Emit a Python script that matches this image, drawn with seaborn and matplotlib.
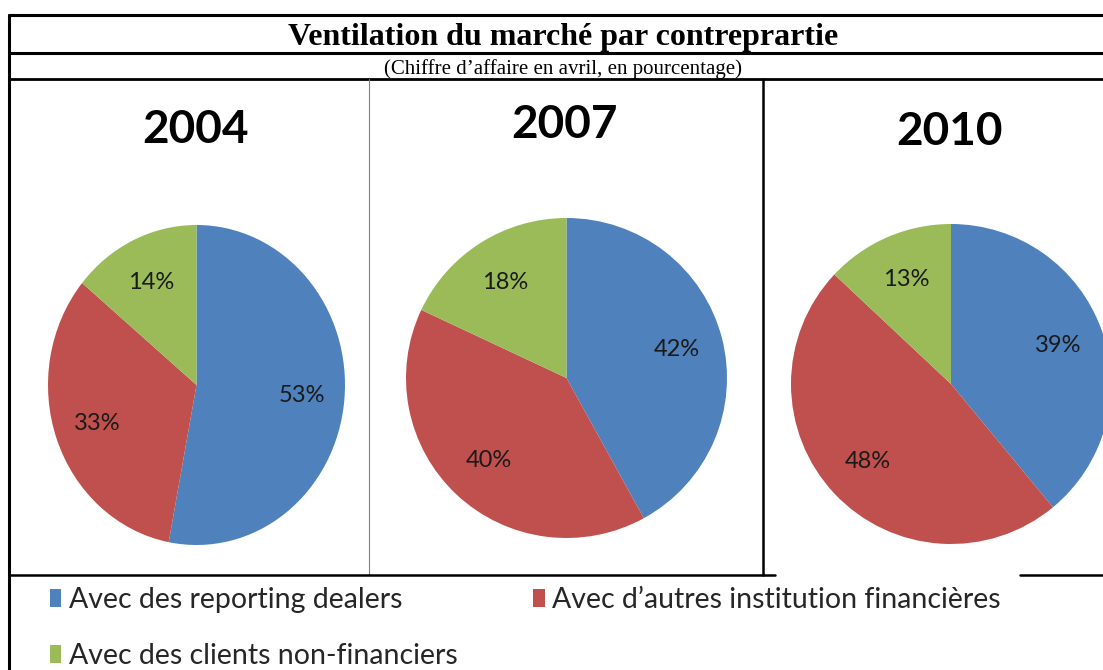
import matplotlib
matplotlib.use("Agg")
import matplotlib.pyplot as plt
import seaborn as sns
from matplotlib.patches import Patch

# --- data ---
years = ["2004", "2007", "2010"]
categories = [
    "Avec des reporting dealers",
    "Avec d\u2019autres institution financi\u00e8res",
    "Avec des clients non-financiers",
]
reporting_dealers = [53, 42, 39]
autres_institutions = [33, 40, 48]
clients_non_financiers = [14, 18, 13]

title = "Ventilation du march\u00e9 par contreprartie"
subtitle = "(Chiffre d\u2019affaire en avril, en pourcentage)"

sns.set_style("white")
plt.rcParams["font.family"] = ["Lato", "DejaVu Sans"]

palette = sns.color_palette(["#4F81BD", "#C0504D", "#9BBB59"])

W, H = 1103, 670
fig = plt.figure(figsize=(W / 100, H / 100), dpi=100)

# background axes in pixel units for the table frame and texts
bg = fig.add_axes([0, 0, 1, 1])
bg.set_xlim(0, W)
bg.set_ylim(H, 0)
bg.axis("off")

# frame lines
bg.plot([9, W], [15, 15], color="black", lw=2.2)
bg.plot([9, W], [53, 53], color="black", lw=2.2)
bg.plot([9, W], [79, 79], color="black", lw=2.0)
bg.plot([9, 9], [15, H], color="black", lw=2.2)
bg.plot([369, 369], [79, 575], color="#808080", lw=0.8)
bg.plot([763, 763], [79, 575], color="black", lw=1.8)
bg.plot([9, 775], [575, 575], color="black", lw=1.8)
bg.plot([1020, W], [575, 575], color="black", lw=1.8)

bg.text(563, 45, title, ha="center", va="baseline", fontsize=23,
        fontweight="bold", color="black",
        family=["Liberation Serif", "DejaVu Serif"])
bg.text(563, 74, subtitle, ha="center", va="baseline", fontsize=15,
        color="black", family=["Liberation Serif", "DejaVu Serif"])

# pie panels: (left, top, width, height) in pixels, and year title position
panels = [
    ((48, 225, 297, 320), (195, 143)),
    ((406, 218, 321, 320), (564, 138)),
    ((791, 224, 320, 320), (950, 145)),
]

for i, (year, (box, tpos)) in enumerate(zip(years, panels)):
    left, top, w, h = box
    ax = fig.add_axes([left / W, 1 - (top + h) / H, w / W, h / H])
    values = [reporting_dealers[i], autres_institutions[i], clients_non_financiers[i]]
    wedges, texts, autotexts = ax.pie(
        values, colors=palette, startangle=90, counterclock=False,
        autopct=lambda p: f"{p:.0f}%", pctdistance=0.71,
        wedgeprops=dict(linewidth=0),
        textprops=dict(fontsize=17, color="#1a1a1a"),
    )
    ax.set_aspect("auto")
    ax.set_xlim(-1, 1)
    ax.set_ylim(-1, 1)
    bg.text(tpos[0], tpos[1], year, ha="center", va="baseline",
            fontsize=33, fontweight="bold", color="black")

# legend
handles = [Patch(facecolor=c, edgecolor="none") for c in palette]
order = [0, 2, 1]
fig.legend(
    [handles[k] for k in order], [categories[k] for k in order],
    loc="upper left", bbox_to_anchor=(50 / W, 1 - 587 / H),
    ncol=2, frameon=False, fontsize=20.5, borderpad=0, borderaxespad=0,
    handlelength=0.4, handleheight=0.6, handletextpad=0.25,
    labelspacing=1.05, columnspacing=2.67,
)

fig.savefig("out.png", dpi=100, facecolor="white")
